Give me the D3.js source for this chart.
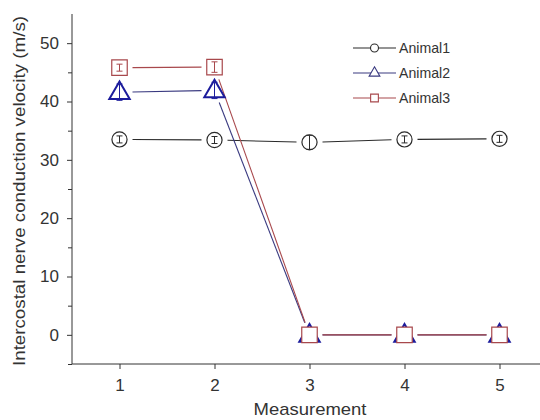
<!DOCTYPE html>
<html lang="en">
<head>
<meta charset="utf-8">
<title>Nerve conduction velocity</title>
<script src="https://d3js.org/d3.v7.min.js"></script>
<style>
  body { margin: 0; background: #fff; }
  text { font-family: "Liberation Sans", Arial, sans-serif; fill: #333; }
  .axis path, .axis line { stroke: #333; }
</style>
</head>
<body>
<svg id="chart" width="540" height="420"></svg>
<script>
var measurements = [1, 2, 3, 4, 5];
var animal1 = [33.5, 33.4, 33.0, 33.5, 33.6];
var animal1Err = [0.6, 0.6, 1.2, 0.6, 0.6];
var animal2 = [41.6, 41.9, 0, 0, 0];
var animal2Err = [1.4, 1.4, 0, 0, 0];
var animal3 = [45.8, 45.9, 0, 0, 0];
var animal3Err = [0.6, 0.9, 0, 0, 0];
var yTicks = [0, 10, 20, 30, 40, 50];

var series = [
  { name: "Animal1", values: animal1, err: animal1Err, color: "#2b2b2b", shape: d3.symbolCircle, size: 180, legendSize: 50, sw: 1.2 },
  { name: "Animal2", values: animal2, err: animal2Err, color: "#1c1c9c", line: "#3a3a80", shape: d3.symbolTriangle, size: 180, legendSize: 50, sw: 2 },
  { name: "Animal3", values: animal3, err: animal3Err, color: "#a8484c", shape: d3.symbolSquare, size: 240, legendSize: 60, sw: 1.2 }
];

var svg = d3.select("#chart");
var x = d3.scaleLinear().domain([0.5, 5.5]).range([72, 547]);
var y = d3.scaleLinear().domain([-5, 55]).range([364, 14]);

// axes
svg.append("g")
  .attr("class", "axis")
  .attr("transform", "translate(0,364)")
  .call(d3.axisBottom(x).tickValues(measurements).tickSize(5).tickPadding(10).tickFormat(d3.format("d")))
  .call(function (g) {
    g.select(".domain").attr("d", "M72,0H540");
    g.selectAll("text").style("font-size", "17px").style("fill", "#333");
  });

svg.append("g")
  .attr("class", "axis")
  .attr("transform", "translate(72,0)")
  .call(d3.axisLeft(y).tickValues(d3.range(-5, 55, 5)).tickSize(5).tickPadding(8)
    .tickFormat(function (d) { return yTicks.indexOf(d) >= 0 ? d : ""; }))
  .call(function (g) {
    g.select(".domain").attr("d", "M0,14V364");
    g.selectAll(".tick").filter(function (d) { return yTicks.indexOf(d) < 0; })
      .select("line").attr("x2", -4);
    g.selectAll("text").style("font-size", "17px").style("fill", "#333");
  });

svg.append("text")
  .attr("x", 310).attr("y", 415)
  .attr("text-anchor", "middle")
  .attr("textLength", 113)
  .attr("lengthAdjust", "spacingAndGlyphs")
  .style("font-size", "17px")
  .text("Measurement");

svg.append("text")
  .attr("transform", "translate(25,191) rotate(-90)")
  .attr("text-anchor", "middle")
  .attr("textLength", 350)
  .attr("lengthAdjust", "spacingAndGlyphs")
  .style("font-size", "17px")
  .text("Intercostal nerve conduction velocity (m/s)");

// lines with gaps around markers
var gap = 13;
series.forEach(function (s) {
  var pts = s.values.map(function (v, i) { return [x(measurements[i]), y(v)]; });
  for (var i = 0; i < pts.length - 1; i++) {
    var a = pts[i], b = pts[i + 1];
    var dx = b[0] - a[0], dy = b[1] - a[1];
    var len = Math.sqrt(dx * dx + dy * dy);
    var ux = dx / len, uy = dy / len;
    svg.append("line")
      .attr("x1", a[0] + ux * gap).attr("y1", a[1] + uy * gap)
      .attr("x2", b[0] - ux * gap).attr("y2", b[1] - uy * gap)
      .attr("stroke", s.line || s.color)
      .attr("stroke-width", 1.1);
  }
});

// markers and error bars
series.forEach(function (s) {
  var g = svg.append("g");
  s.values.forEach(function (v, i) {
    var cx = x(measurements[i]), cy = y(v);
    var ty = s.shape === d3.symbolTriangle ? cy + 1 : cy;
    g.append("path")
      .attr("transform", "translate(" + cx + "," + ty + ")")
      .attr("d", d3.symbol().type(s.shape).size(s.size)())
      .attr("fill", "#fff")
      .attr("stroke", s.color)
      .attr("stroke-width", s.sw);
    if (s.err[i] > 0) {
      var y1 = y(v + s.err[i]), y2 = y(v - s.err[i]);
      g.append("line").attr("x1", cx).attr("x2", cx).attr("y1", y1).attr("y2", y2)
        .attr("stroke", s.color).attr("stroke-width", 1);
      [y1, y2].forEach(function (yy) {
        g.append("line").attr("x1", cx - 3).attr("x2", cx + 3).attr("y1", yy).attr("y2", yy)
          .attr("stroke", s.color).attr("stroke-width", 1);
      });
    }
  });
});

// legend
var legend = svg.append("g").attr("transform", "translate(353,48)");
series.forEach(function (s, i) {
  var row = legend.append("g").attr("transform", "translate(0," + (i * 25) + ")");
  row.append("line").attr("x1", 0).attr("x2", 43).attr("y1", 0).attr("y2", 0)
    .attr("stroke", s.line || s.color).attr("stroke-width", 1.1);
  row.append("path")
    .attr("transform", "translate(21.5,0)")
    .attr("d", d3.symbol().type(s.shape).size(s.legendSize)())
    .attr("fill", "#fff")
    .attr("stroke", s.line || s.color)
    .attr("stroke-width", 1.1);
  row.append("text")
    .attr("x", 46).attr("y", 5)
    .attr("textLength", 51)
    .attr("lengthAdjust", "spacingAndGlyphs")
    .style("font-size", "15px")
    .text(s.name);
});
</script>
</body>
</html>
